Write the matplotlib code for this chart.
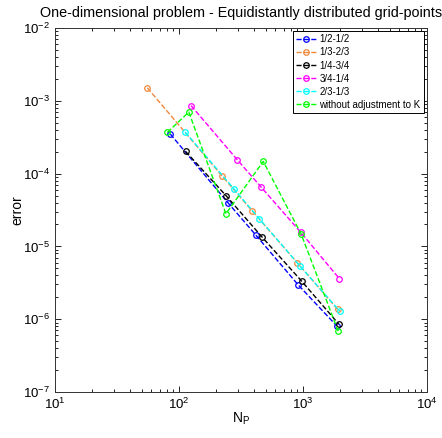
import matplotlib
matplotlib.use("Agg")
import matplotlib.pyplot as plt
from matplotlib.ticker import LogLocator, NullFormatter

plt.rcParams['font.family'] = ['Liberation Sans', 'DejaVu Sans']
plt.rcParams['mathtext.fontset'] = 'custom'
plt.rcParams['mathtext.rm'] = 'Liberation Sans'
plt.rcParams['mathtext.it'] = 'Liberation Sans'

labels = ["1/2-1/2", "1/3-2/3", "1/4-3/4", "3/4-1/4", "2/3-1/3", "without adjustment to K"]
colors = ["#0000ff", "#f0883c", "#000000", "#ff00ff", "#00ffff", "#00ff00"]

n_half = [85, 250, 418, 916, 1870]
e_half = [3.5e-4, 3.92e-5, 1.42e-5, 2.95e-6, 8.1e-7]

n_third = [55.5, 221, 390, 899, 1905]
e_third = [1.51e-3, 9.4e-5, 3.05e-5, 5.98e-6, 1.36e-6]

n_quarter = [113, 239, 470, 977, 1940]
e_quarter = [2.02e-4, 5.0e-5, 1.33e-5, 3.32e-6, 8.6e-7]

n_3quarter = [125, 295, 458, 960, 1963]
e_3quarter = [8.6e-4, 1.55e-4, 6.57e-5, 1.56e-5, 3.61e-6]

n_2third = [112, 276, 444, 946, 1977]
e_2third = [3.73e-4, 6.23e-5, 2.4e-5, 5.37e-6, 1.29e-6]

n_noadj = [80.5, 120, 239, 478, 964, 1927]
e_noadj = [3.68e-4, 7.0e-4, 2.81e-5, 1.47e-4, 1.49e-5, 6.79e-7]

series = [(n_half, e_half), (n_third, e_third), (n_quarter, e_quarter),
          (n_3quarter, e_3quarter), (n_2third, e_2third), (n_noadj, e_noadj)]

fig = plt.figure(figsize=(4.42, 4.38), dpi=100)
ax = fig.add_axes([55/442, 46/438, 372/442, 364/438])

for (n, e), lab, c in zip(series, labels, colors):
    ax.loglog(n, e, '--o', color=c, label=lab, linewidth=1.0,
              markersize=4, markerfacecolor='none', markeredgewidth=0.9)

ax.set_xlim(10, 1e4)
ax.set_ylim(1e-7, 1e-2)
ax.xaxis.set_major_locator(LogLocator(base=10, numticks=10))
ax.yaxis.set_major_locator(LogLocator(base=10, numticks=10))
ax.xaxis.set_minor_locator(LogLocator(base=10, subs=range(2, 10), numticks=20))
ax.yaxis.set_minor_locator(LogLocator(base=10, subs=range(2, 10), numticks=20))
ax.xaxis.set_minor_formatter(NullFormatter())
ax.yaxis.set_minor_formatter(NullFormatter())
ax.tick_params(which='both', direction='in', top=True, right=True, labelsize=9.5)
ax.tick_params(which='major', length=4, width=0.6)
ax.tick_params(which='minor', length=2, width=0.6)
for s in ax.spines.values():
    s.set_linewidth(0.7)
    s.set_color('#333333')

ax.set_title("One-dimensional problem - Equidistantly distributed grid-points",
             fontsize=10.4, pad=8)
ax.set_xlabel(r"N$_\mathrm{P}$", fontsize=10, labelpad=-1)
ax.set_ylabel("error", fontsize=10, labelpad=-1)

leg = ax.legend(loc='upper right', fontsize=7, frameon=True, fancybox=False,
                edgecolor='black', framealpha=1, handlelength=2.0,
                handletextpad=0.4, labelspacing=0.32, borderpad=0.35,
                borderaxespad=0.3)
leg.get_frame().set_linewidth(0.7)

fig.savefig("out.png", dpi=100)
